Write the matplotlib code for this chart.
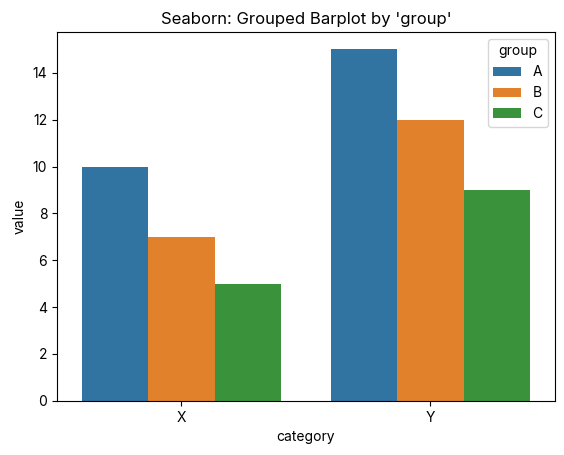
import pandas as pd
import seaborn as sns
from matplotlib import pyplot as plt

plt.rcParams['font.family'] = ['Inter', 'DejaVu Sans']

categories = ['X', 'X', 'X', 'Y', 'Y', 'Y']
groups = ['A', 'B', 'C', 'A', 'B', 'C']
values = [10, 7, 5, 15, 12, 9]

df = pd.DataFrame({'category': categories, 'group': groups, 'value': values})

fig, ax = plt.subplots(figsize=(5.64, 4.55), dpi=100)
sns.barplot(data=df, x='category', y='value', hue='group', ax=ax)
ax.set_title("Seaborn: Grouped Barplot by 'group'")
fig.subplots_adjust(left=0.101, right=0.984, top=0.930, bottom=0.119)
fig.savefig('out.png', dpi=100)
